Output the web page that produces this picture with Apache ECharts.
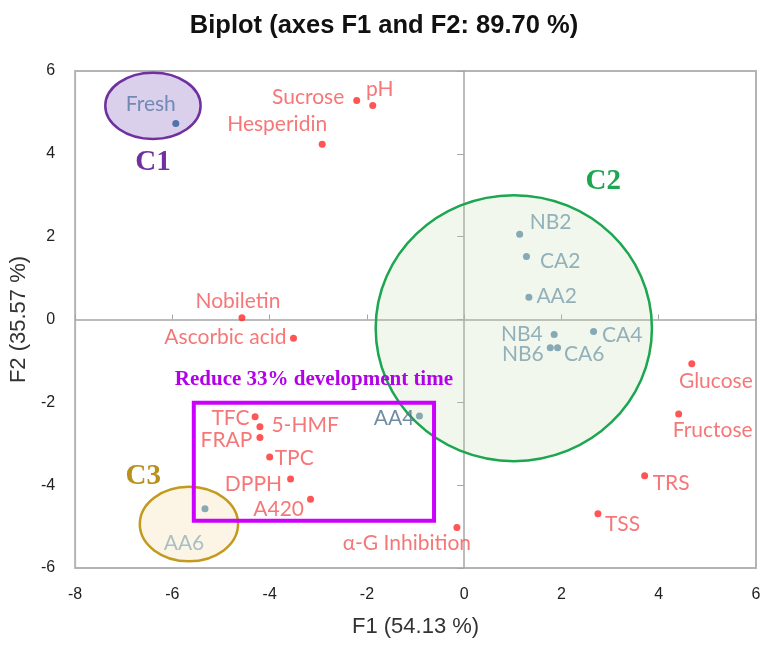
<!DOCTYPE html>
<html><head><meta charset="utf-8">
<script src="https://cdn.jsdelivr.net/npm/echarts@6/dist/echarts.min.js"></script>
<style>html,body{margin:0;padding:0;background:#fff}#c{width:768px;height:645px}</style>
</head><body><div id="c"></div>
<script>
// ---- data ----
const varNames = ['Sucrose','pH','Hesperidin','Nobiletin','Ascorbic acid','Glucose','Fructose','TRS','TSS','TFC','5-HMF','FRAP','TPC','DPPH','A420','α-G Inhibition'];
const varF1 = [-2.21,-1.88,-2.92,-4.57,-3.51,4.68,4.41,3.71,2.75,-4.30,-4.20,-4.20,-4.00,-3.57,-3.16,-0.15];
const varF2 = [5.29,5.17,4.23,0.04,-0.45,-1.07,-2.28,-3.77,-4.69,-2.35,-2.59,-2.85,-3.32,-3.85,-4.34,-5.02];
const obsNames = ['Fresh','NB2','CA2','AA2','NB4','CA4','NB6','CA6','AA4','AA6'];
const obsF1 = [-5.93,1.14,1.28,1.33,1.85,2.66,1.77,1.92,-0.92,-5.33];
const obsF2 = [4.73,2.06,1.52,0.54,-0.36,-0.29,-0.68,-0.68,-2.33,-4.57];
const xTicks = [-8,-6,-4,-2,0,2,4,6];
const yTicks = [-6,-4,-2,0,2,4,6];
const clusterNames = ['C1','C2','C3'];
const clusterCx = [-6.40, 1.02, -5.66];
const clusterCy = [5.16, -0.21, -4.94];
const clusterRx = [0.98, 2.84, 1.01];
const clusterRy = [0.80, 3.21, 0.90];
const clusterLabelF1 = [-6.40, 2.86, -6.60];
const clusterLabelF2 = [3.80, 3.32, -3.78];
const boxF1 = [-5.56, -0.62];
const boxF2 = [-2.01, -4.86];
const boxCaption = 'Reduce 33% development time';
const boxCaptionF1 = -3.09;
const boxCaptionF2 = -1.44;

// ---- label placement (style) ----
const place = {
  'Sucrose':['left',9,0,-3], 'pH':['top',2,7,0], 'Hesperidin':['top',6,-45,0], 'Nobiletin':['top',3,-4,0],
  'Ascorbic acid':['left',3.5,0,-1], 'Glucose':['bottom',3,24,0], 'Fructose':['bottom',2.5,34,0],
  'TRS':['right',4.5,0,8], 'TSS':['right',3.5,0,10], 'TFC':['left',2,0,1], '5-HMF':['right',8,0,-2],
  'FRAP':['left',4,0,3], 'TPC':['right',1.5,0,1], 'DPPH':['left',5,0,5], 'A420':['left',3,0,10],
  'α-G Inhibition':['bottom',2,-50,0],
  'Fresh':['top',5,-25,0], 'NB2':['right',6.5,0,-12], 'CA2':['right',10,0,5], 'AA2':['right',4,0,-1],
  'NB4':['left',8,0,0], 'CA4':['right',5,0,4], 'NB6':['left',3,0,7], 'CA6':['right',3,0,7],
  'AA4':['left',1.5,0,2], 'AA6':['bottom',20.5,-21,0]
};
const labelFont = 'Lato';
function lbl(name, color){
  const p = place[name];
  return {show:true, formatter:name, position:p[0], distance:p[1], offset:[p[2],p[3]],
    color:color, fontSize:21, fontFamily:labelFont};
}
const clusterFill = ['rgba(150,120,200,0.35)','rgba(190,220,170,0.22)','rgba(245,220,160,0.28)'];
const clusterStroke = ['#7030a0','#1ca650','#c49a1e'];
const clusterTextColor = ['#7030a0','#1ca650','#b8901a'];

const varData = varNames.map((n,i)=>({value:[varF1[i],varF2[i]], label:lbl(n,'#f25555')}));
const obsData = obsNames.map((n,i)=>{
  let tc = '#7b9fad', dc = '#6a96a8';
  if (n==='Fresh'){ tc='#5878a6'; dc='#2e5b9a'; }
  if (n==='AA4'){ tc='#4f7189'; }
  if (n==='AA6'){ tc='#93b1bb'; }
  return {value:[obsF1[i],obsF2[i]], label:lbl(n,tc), itemStyle:{color:dc}};
});

const chart = echarts.init(document.getElementById('c'));
const axisFont = 'Liberation Sans';
chart.setOption({
  animation:false,
  title:{text:'Biplot (axes F1 and F2: 89.70 %)', left:'center', top:8,
    textStyle:{fontSize:25.5, fontWeight:'bold', fontFamily:axisFont, color:'#111'}},
  grid:{left:75, right:12, top:71, bottom:77, show:true, borderColor:'#b4b4b4', borderWidth:2},
  xAxis:[
    {type:'value', min:xTicks[0], max:xTicks[xTicks.length-1], interval:2,
     axisLine:{show:false,onZero:false}, axisTick:{show:false}, splitLine:{show:false},
     axisLabel:{fontSize:16, color:'#222', margin:19, fontFamily:axisFont},
     name:'F1 (54.13 %)', nameLocation:'middle', nameGap:48,
     nameTextStyle:{fontSize:22, color:'#333', fontFamily:axisFont}},
    {type:'value', min:xTicks[0], max:xTicks[xTicks.length-1], interval:2,
     axisLine:{show:true,onZero:true,onZeroAxisIndex:0,lineStyle:{color:'#a6a6a6',width:1.5}},
     axisTick:{show:true,length:5,lineStyle:{color:'#a6a6a6'}}, axisLabel:{show:false}, splitLine:{show:false}}
  ],
  yAxis:[
    {type:'value', min:yTicks[0], max:yTicks[yTicks.length-1], interval:2,
     axisLine:{show:false,onZero:false}, axisTick:{show:false}, splitLine:{show:false},
     axisLabel:{fontSize:16, color:'#222', margin:20, fontFamily:axisFont},
     name:'F2 (35.57 %)', nameLocation:'middle', nameGap:43,
     nameTextStyle:{fontSize:22, color:'#333', fontFamily:axisFont}},
    {type:'value', min:yTicks[0], max:yTicks[yTicks.length-1], interval:2, position:'left',
     axisLine:{show:true,onZero:true,onZeroAxisIndex:0,lineStyle:{color:'#a6a6a6',width:1.5}},
     axisTick:{show:true,length:7,lineStyle:{color:'#a6a6a6'}}, axisLabel:{show:false}, splitLine:{show:false}}
  ],
  series:[
    {type:'custom', z:1, silent:true,
     data:clusterCx.map((x,i)=>[x,clusterCy[i],clusterRx[i],clusterRy[i]]),
     renderItem:function(params, api){
       const i = params.dataIndex;
       const c = api.coord([api.value(0), api.value(1)]);
       const s = api.size([api.value(2), api.value(3)]);
       return {type:'ellipse', shape:{cx:c[0], cy:c[1], rx:s[0], ry:s[1]},
         style:{fill:clusterFill[i], stroke:clusterStroke[i], lineWidth:2.5}};
     }},
    {type:'custom', z:3, silent:true,
     data:[[boxF1[0],boxF2[0],boxF1[1],boxF2[1]]],
     renderItem:function(params, api){
       const a = api.coord([api.value(0), api.value(1)]);
       const b = api.coord([api.value(2), api.value(3)]);
       return {type:'rect', shape:{x:Math.min(a[0],b[0]), y:Math.min(a[1],b[1]),
         width:Math.abs(b[0]-a[0]), height:Math.abs(b[1]-a[1])},
         style:{fill:'none', stroke:'#cc00ff', lineWidth:4}};
     }},
    {type:'custom', z:4, silent:true,
     data:clusterLabelF1.map((x,i)=>[x,clusterLabelF2[i]]).concat([[boxCaptionF1,boxCaptionF2]]),
     renderItem:function(params, api){
       const i = params.dataIndex;
       const c = api.coord([api.value(0), api.value(1)]);
       const isCap = i === clusterNames.length;
       return {type:'text', x:c[0], y:c[1], style:{
         text: isCap ? boxCaption : clusterNames[i],
         fill: isCap ? '#b400e8' : clusterTextColor[i],
         font: isCap ? 'bold 21px "Liberation Serif"' : 'bold 29px "Liberation Serif"',
         align:'center', verticalAlign:'middle'}};
     }},
    {type:'scatter', z:5, symbolSize:7, itemStyle:{color:'#ff2b2b'}, data:varData},
    {type:'scatter', z:5, symbolSize:7, itemStyle:{color:'#6a96a8'}, data:obsData}
  ]
});
</script></body></html>
